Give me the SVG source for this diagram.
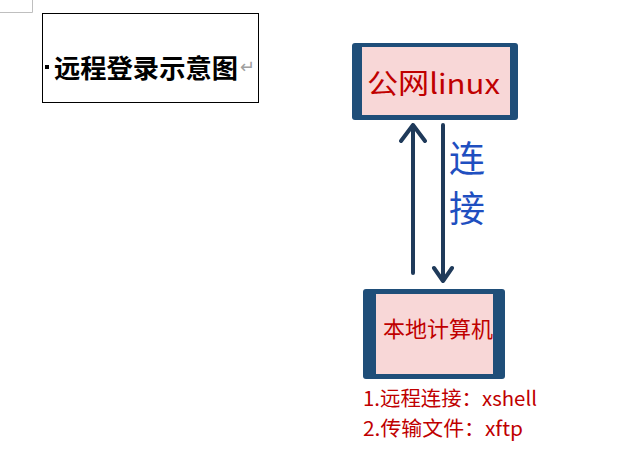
<svg xmlns="http://www.w3.org/2000/svg" width="635" height="459" viewBox="0 0 635 459">
<defs>
<style>
.cjk{font-family:"Liberation Sans","Noto Sans CJK SC",sans-serif;}
.noto{font-family:"Noto Sans CJK SC","Noto Sans",sans-serif;}
.red{fill:#c00000;}
.frame{fill:#1f4e79;}
.screen{fill:#f8d7d7;}
.arrow{stroke:#1f3a5a;stroke-width:4;fill:none;stroke-linecap:round;stroke-linejoin:round;}
</style>
</defs>
<rect width="635" height="459" fill="#ffffff"/>
<path d="M0 12.5H32.5V0" fill="none" stroke="#bfbfbf" stroke-width="1"/>
<g id="title">
<rect x="42.5" y="13.5" width="216" height="89" fill="none" stroke="#000000" stroke-width="1"/>
<rect x="45" y="65" width="4" height="4" fill="#000000"/>
<text x="54" y="78" class="cjk" font-size="26" font-weight="bold" fill="#000000" textLength="184" lengthAdjust="spacingAndGlyphs">远程登录示意图</text>
<text x="240" y="73" class="cjk" font-size="18" fill="#a0a0a0">↵</text>
</g>
<g id="public-linux">
<rect x="352" y="43" width="166" height="77" rx="3" class="frame"/>
<rect x="362" y="47" width="148" height="68" class="screen"/>
<text x="367" y="94" class="noto red" font-size="28" textLength="133" lengthAdjust="spacingAndGlyphs">公网linux</text>
</g>
<g id="local-computer">
<rect x="363" y="289" width="142" height="90" rx="3" class="frame"/>
<rect x="376" y="294" width="117" height="80" class="screen"/>
<text x="383" y="337" class="noto red" font-size="22" textLength="110" lengthAdjust="spacingAndGlyphs">本地计算机</text>
</g>
<g id="connectors">
<path class="arrow" d="M413 273V125M401 141L413 125L425 141"/>
<path class="arrow" d="M443 125V281M434 268L443 281L452 268"/>
<text x="449" y="172" class="noto" font-size="36" fill="#1f4fc0">连</text>
<text x="449" y="222" class="noto" font-size="36" fill="#1f4fc0">接</text>
</g>
<g id="notes">
<text x="363" y="406" class="noto red" font-size="20" textLength="174" lengthAdjust="spacingAndGlyphs">1.远程连接：xshell</text>
<text x="363" y="436" class="noto red" font-size="20" textLength="160" lengthAdjust="spacingAndGlyphs">2.传输文件：xftp</text>
</g>
</svg>
